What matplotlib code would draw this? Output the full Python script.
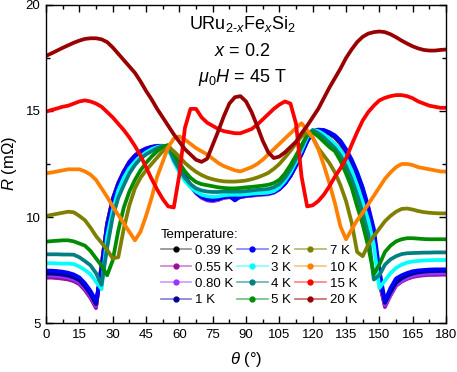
import matplotlib
matplotlib.use("Agg")
import matplotlib.pyplot as plt
from matplotlib.lines import Line2D
from matplotlib.ticker import MultipleLocator

plt.rcParams["font.family"] = "Liberation Sans"
plt.rcParams["mathtext.fontset"] = "custom"
plt.rcParams["mathtext.rm"] = "Liberation Sans"
plt.rcParams["mathtext.it"] = "Liberation Sans:italic"

# ─────────────────────────────────────────────
# Data (angle grid in degrees, resistance in mOhm)
# ─────────────────────────────────────────────

theta = [i * 2.5 for i in range(73)]

temps = ["0.39 K", "0.55 K", "0.80 K", "1 K", "2 K", "3 K",
         "4 K", "5 K", "7 K", "10 K", "15 K", "20 K"]

r_039 = [7.17, 7.17, 7.15, 7.12, 7.08, 7.00, 6.87, 6.60, 6.25, 5.78,
         7.75, 9.70, 10.85, 11.60, 12.15, 12.60, 12.90, 13.10, 13.22, 13.30,
         13.35, 13.35, 13.20, 12.75, 12.30, 11.90, 11.50, 11.15, 10.95, 10.82,
         10.78, 10.83, 10.92, 10.95, 10.92, 10.95, 11.00, 11.03, 11.06, 11.08,
         11.10, 11.17, 11.32, 11.58, 11.95, 12.45, 13.00, 13.60, 14.05, 14.10,
         14.05, 13.92, 13.75, 13.45, 13.00, 12.50, 11.85, 11.05, 10.15, 8.95,
         6.90, 5.85, 6.35, 6.80, 6.98, 7.10, 7.20, 7.25, 7.28, 7.30,
         7.30, 7.31, 7.31]

r_055 = [7.14, 7.14, 7.12, 7.09, 7.05, 6.97, 6.83, 6.55, 6.18, 5.70,
         7.70, 9.68, 10.84, 11.59, 12.15, 12.60, 12.90, 13.10, 13.22, 13.30,
         13.35, 13.35, 13.20, 12.75, 12.29, 11.89, 11.49, 11.14, 10.93, 10.80,
         10.76, 10.81, 10.91, 10.94, 10.91, 10.94, 10.99, 11.02, 11.05, 11.07,
         11.09, 11.16, 11.31, 11.57, 11.94, 12.44, 12.99, 13.59, 14.05, 14.11,
         14.07, 13.94, 13.77, 13.48, 13.04, 12.54, 11.90, 11.10, 10.20, 9.02,
         6.95, 5.75, 6.30, 6.75, 6.95, 7.08, 7.17, 7.22, 7.25, 7.27,
         7.27, 7.28, 7.28]

r_080 = [7.24, 7.24, 7.22, 7.19, 7.14, 7.06, 6.92, 6.64, 6.27, 5.80,
         7.70, 9.65, 10.82, 11.58, 12.14, 12.60, 12.90, 13.10, 13.24, 13.32,
         13.36, 13.36, 13.22, 12.75, 12.28, 11.87, 11.47, 11.12, 10.90, 10.78,
         10.75, 10.80, 10.90, 10.93, 10.90, 10.93, 10.98, 11.00, 11.03, 11.05,
         11.07, 11.14, 11.30, 11.56, 11.93, 12.43, 12.98, 13.58, 14.05, 14.13,
         14.10, 13.98, 13.80, 13.52, 13.08, 12.58, 11.95, 11.15, 10.25, 9.10,
         7.05, 5.85, 6.30, 6.78, 6.98, 7.12, 7.22, 7.28, 7.31, 7.33,
         7.34, 7.35, 7.35]

r_1 = [7.33, 7.33, 7.31, 7.28, 7.23, 7.15, 7.01, 6.73, 6.36, 5.88,
       7.60, 9.60, 10.80, 11.55, 12.12, 12.58, 12.88, 13.08, 13.22, 13.30,
       13.34, 13.35, 13.22, 12.76, 12.30, 11.90, 11.50, 11.16, 10.95, 10.83,
       10.80, 10.85, 10.94, 10.97, 10.90, 10.96, 11.01, 11.04, 11.07, 11.09,
       11.11, 11.18, 11.33, 11.58, 11.95, 12.44, 12.98, 13.57, 14.03, 14.10,
       14.07, 13.96, 13.80, 13.53, 13.12, 12.62, 12.00, 11.25, 10.35, 9.25,
       7.20, 5.95, 6.45, 6.90, 7.10, 7.24, 7.33, 7.39, 7.42, 7.44,
       7.45, 7.46, 7.46]

r_2 = [7.47, 7.47, 7.45, 7.42, 7.37, 7.29, 7.15, 6.88, 6.52, 6.05,
       7.45, 9.50, 10.75, 11.52, 12.10, 12.55, 12.86, 13.06, 13.20, 13.28,
       13.33, 13.34, 13.22, 12.78, 12.32, 11.92, 11.52, 11.18, 10.97, 10.85,
       10.82, 10.87, 10.96, 10.98, 10.78, 10.97, 11.02, 11.05, 11.08, 11.10,
       11.12, 11.19, 11.34, 11.58, 11.94, 12.42, 12.96, 13.55, 14.00, 14.10,
       14.10, 14.00, 13.85, 13.60, 13.20, 12.72, 12.12, 11.40, 10.50, 9.45,
       7.50, 6.05, 6.65, 7.10, 7.25, 7.36, 7.44, 7.48, 7.50, 7.52,
       7.53, 7.53, 7.53]

r_3 = [7.82, 7.82, 7.81, 7.80, 7.80, 7.78, 7.66, 7.50, 7.30, 6.95,
       6.60, 9.10, 10.30, 11.25, 11.85, 12.30, 12.60, 12.85, 13.05, 13.20,
       13.30, 13.35, 13.25, 12.60, 12.10, 11.70, 11.40, 11.20, 11.05, 10.98,
       10.95, 10.97, 11.02, 11.05, 11.05, 11.05, 11.07, 11.10, 11.12, 11.13,
       11.15, 11.22, 11.40, 11.70, 12.10, 12.60, 13.15, 13.75, 14.10, 14.05,
       13.90, 13.70, 13.45, 13.15, 12.75, 12.20, 11.50, 10.70, 9.85, 8.70,
       6.65, 7.00, 7.35, 7.60, 7.75, 7.85, 7.90, 7.93, 7.95, 7.96,
       7.97, 7.97, 7.97]

r_4 = [8.24, 8.24, 8.24, 8.23, 8.23, 8.22, 8.10, 7.92, 7.72, 7.35,
       6.80, 8.55, 10.00, 10.90, 11.50, 12.05, 12.45, 12.75, 12.95, 13.10,
       13.25, 13.35, 13.35, 12.70, 12.25, 11.85, 11.55, 11.35, 11.25, 11.20,
       11.18, 11.18, 11.20, 11.20, 11.20, 11.20, 11.22, 11.25, 11.28, 11.30,
       11.32, 11.40, 11.55, 11.85, 12.25, 12.75, 13.30, 13.85, 14.10, 13.95,
       13.75, 13.50, 13.25, 12.90, 12.40, 11.80, 11.05, 10.20, 9.20, 7.05,
       7.25, 7.75, 8.00, 8.15, 8.25, 8.29, 8.30, 8.31, 8.32, 8.32,
       8.33, 8.33, 8.33]

r_5 = [8.84, 8.86, 8.88, 8.90, 8.90, 8.85, 8.75, 8.65, 8.40, 8.05,
       7.70, 7.25, 7.95, 9.35, 10.45, 11.20, 11.75, 12.20, 12.55, 12.85,
       13.10, 13.30, 13.40, 13.00, 12.55, 12.15, 11.85, 11.65, 11.55, 11.50,
       11.45, 11.40, 11.37, 11.35, 11.35, 11.37, 11.40, 11.42, 11.45, 11.48,
       11.52, 11.60, 11.75, 12.05, 12.45, 12.90, 13.40, 13.85, 14.00, 13.80,
       13.55, 13.30, 13.10, 12.65, 12.05, 11.40, 10.50, 9.65, 8.60, 7.30,
       7.75, 8.35, 8.65, 8.85, 8.95, 9.00, 9.00, 8.98, 8.96, 8.95,
       8.95, 8.95, 8.95]

r_7 = [10.05, 10.10, 10.15, 10.20, 10.25, 10.22, 10.05, 9.85, 9.50, 9.10,
       8.78, 8.45, 8.05, 8.10, 9.45, 10.55, 11.35, 11.85, 12.20, 12.50,
       12.80, 13.10, 13.30, 13.10, 12.85, 12.55, 12.33, 12.13, 11.98, 11.86,
       11.78, 11.72, 11.68, 11.67, 11.67, 11.69, 11.72, 11.78, 11.86, 11.96,
       12.08, 12.27, 12.50, 12.80, 13.12, 13.48, 13.80, 14.00, 13.75, 13.25,
       12.90, 12.55, 12.10, 11.50, 10.75, 9.75, 8.35, 8.15, 8.70, 9.10,
       9.45, 9.80, 10.05, 10.25, 10.38, 10.40, 10.35, 10.28, 10.23, 10.20,
       10.18, 10.17, 10.17]

r_10 = [12.06, 12.10, 12.15, 12.20, 12.25, 12.25, 12.25, 12.15, 12.00, 11.75,
        11.35, 10.95, 10.50, 10.10, 9.70, 9.30, 8.90, 9.30, 10.05, 10.90,
        11.90, 12.60, 13.30, 13.70, 13.80, 13.65, 13.45, 13.25, 13.10, 12.95,
        12.75, 12.55, 12.40, 12.30, 12.20, 12.15, 12.25, 12.35, 12.50, 12.70,
        12.95, 13.20, 13.45, 13.70, 13.95, 14.20, 14.42, 14.10, 13.75, 13.20,
        12.45, 11.60, 10.65, 9.55, 8.95, 9.40, 9.85, 10.20, 10.60, 11.00,
        11.40, 11.80, 12.10, 12.35, 12.50, 12.50, 12.45, 12.35, 12.30, 12.25,
        12.20, 12.15, 12.14]

r_15 = [14.97, 15.05, 15.12, 15.20, 15.25, 15.35, 15.45, 15.50, 15.45, 15.35,
        15.20, 14.95, 14.70, 14.40, 14.10, 13.75, 13.35, 12.90, 12.35, 11.80,
        11.30, 10.85, 10.50, 10.45, 12.00, 14.20, 15.10, 15.10, 14.70, 14.45,
        14.30, 14.15, 14.05, 14.00, 13.95, 13.95, 14.05, 14.15, 14.35, 14.60,
        14.85, 15.10, 15.30, 15.45, 15.35, 14.40, 11.90, 10.50, 10.55, 10.75,
        11.05, 11.45, 11.90, 12.30, 12.75, 13.40, 14.00, 14.55, 14.95, 15.25,
        15.50, 15.62, 15.70, 15.75, 15.75, 15.70, 15.60, 15.45, 15.35, 15.25,
        15.20, 15.15, 15.15]

r_20 = [17.60, 17.72, 17.85, 17.98, 18.10, 18.22, 18.32, 18.40, 18.43, 18.43,
        18.38, 18.25, 18.00, 17.70, 17.40, 17.10, 16.80, 16.40, 15.95, 15.55,
        15.10, 14.70, 14.30, 13.90, 13.55, 13.20, 12.95, 12.70, 12.60, 12.75,
        13.40, 14.05, 14.75, 15.35, 15.65, 15.70, 15.45, 14.95, 14.30, 13.60,
        13.05, 12.78, 12.85, 13.05, 13.30, 13.55, 13.95, 14.30, 14.70, 15.10,
        15.60, 16.10, 16.55, 17.00, 17.50, 17.90, 18.25, 18.50, 18.65, 18.72,
        18.75, 18.72, 18.62, 18.48, 18.32, 18.18, 18.05, 17.95, 17.88, 17.85,
        17.85, 17.88, 17.90]

series = [r_039, r_055, r_080, r_1, r_2, r_3, r_4, r_5, r_7, r_10, r_15, r_20]

colors = ["#000000", "#9b0f9b", "#9933ff", "#000099", "#0000ff", "#00ffff",
          "#008080", "#008c00", "#808000", "#ff8000", "#ff0000", "#990000"]
legend_line_colors = ["#8c8c8c", "#d27fd2", "#cc99ff", "#7f7fcc", "#8080ff", "#80ffff",
                      "#66b2b2", "#66c080", "#b3b366", "#ffbf80", "#ff8080", "#cc6666"]

# ─────────────────────────────────────────────
# Figure
# ─────────────────────────────────────────────

fig = plt.figure(figsize=(4.57, 3.72), dpi=100)
ax = fig.add_axes([0.1007, 0.1317, 0.8753, 0.8549])

for r, c in zip(series, colors):
    ax.plot(theta, r, color=c, lw=2.7, solid_joinstyle="round", solid_capstyle="round")

ax.set_xlim(0, 180)
ax.set_ylim(5, 20)
ax.xaxis.set_major_locator(MultipleLocator(15))
ax.xaxis.set_minor_locator(MultipleLocator(7.5))
ax.yaxis.set_major_locator(MultipleLocator(5))
ax.yaxis.set_minor_locator(MultipleLocator(2.5))
ax.tick_params(which="both", direction="in", top=True, right=True, labelsize=9.5, pad=4)
ax.tick_params(which="major", length=5, width=1)
ax.tick_params(which="minor", length=3, width=1)
for sp in ax.spines.values():
    sp.set_linewidth(1.0)

ax.set_xlabel(r"$\theta$ (°)", fontsize=12, labelpad=7)
ax.set_ylabel(r"$R$ (mΩ)", fontsize=12, labelpad=5)

ax.text(0.49, 0.924, r"URu$_{2\text{-}x}$Fe$_{x}$Si$_{2}$", transform=ax.transAxes,
        ha="center", va="baseline", fontsize=13)
ax.text(0.49, 0.84, r"$x$ = 0.2", transform=ax.transAxes,
        ha="center", va="baseline", fontsize=13)
ax.text(0.49, 0.759, r"$\mu_{0}H$ = 45 T", transform=ax.transAxes,
        ha="center", va="baseline", fontsize=13)

handles = [Line2D([], [], color=lc, lw=1.2, marker="o", markersize=3.5,
                  markerfacecolor=c, markeredgecolor=c)
           for lc, c in zip(legend_line_colors, colors)]
leg = ax.legend(handles, temps, title="Temperature:", ncol=3, frameon=False,
                loc="upper left", bbox_to_anchor=(0.28, 0.305), fontsize=9.5,
                title_fontsize=9.5, alignment="left", handlelength=2.3,
                handletextpad=0.3, columnspacing=0.3, labelspacing=0.32,
                borderpad=0.2, borderaxespad=0.0)

fig.savefig("out.png", dpi=100)
